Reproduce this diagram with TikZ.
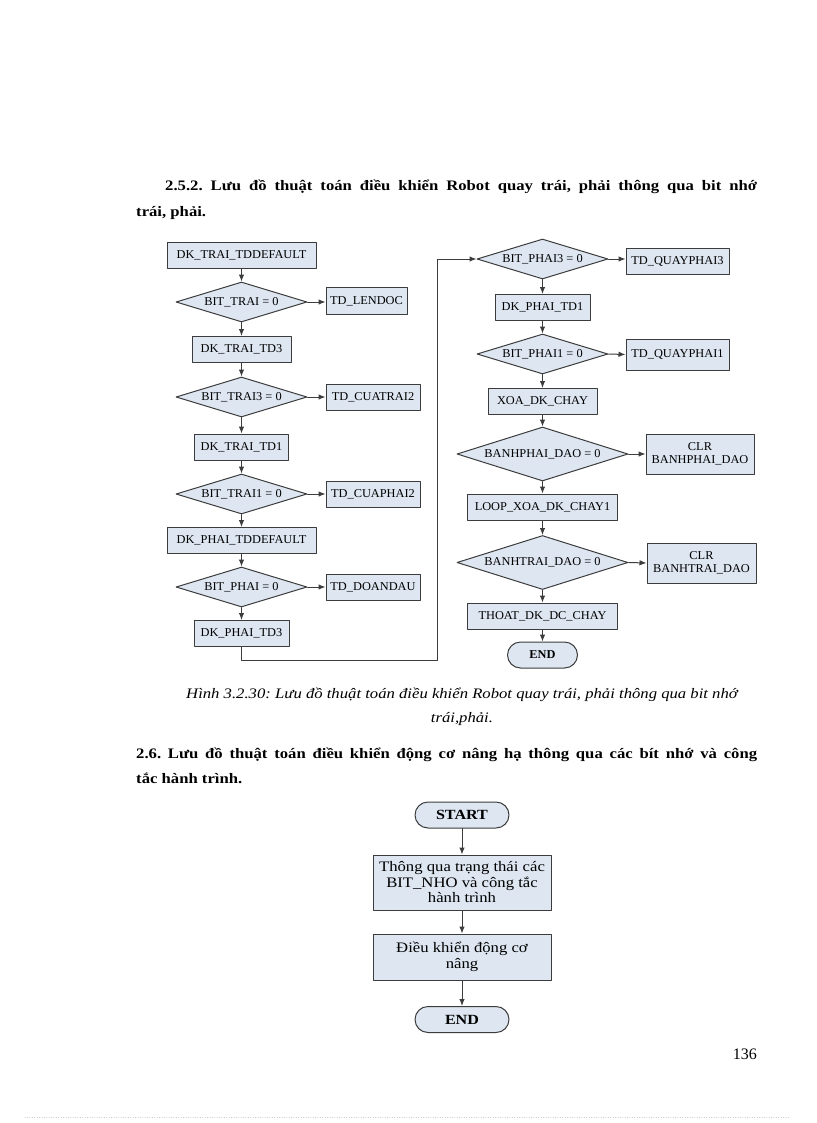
\documentclass[tikz,border=0pt]{standalone}
\usepackage{fontspec}
\setmainfont{Liberation Serif}
\newfontfamily\tieude{Liberation Serif}[FakeStretch=1.15]
\newfontfamily\hop{Liberation Serif}[FakeStretch=1.03]
\usetikzlibrary{shapes.geometric,arrows.meta}
\definecolor{nen}{HTML}{DDE6F1}
\definecolor{vien}{HTML}{3C3C3C}
\begin{document}
\frenchspacing
\begin{tikzpicture}[x=1pt,y=-1pt,>={Latex[length=7pt,width=5.5pt]},line join=round,line cap=round]
		\tikzset{khoi/.style={draw=vien,fill=nen,line width=1pt,rectangle,inner sep=0pt,minimum height=26pt,font=\hop\fontsize{12}{13}\selectfont},
			dieukien/.style={draw=vien,fill=nen,line width=1pt,diamond,aspect=3.5,inner sep=0pt,minimum width=131pt,minimum height=40pt,font=\hop\fontsize{12}{13}\selectfont},
			ketthuc/.style={draw=vien,fill=nen,line width=1pt,rectangle,rounded corners=13pt,inner sep=0pt,minimum width=70pt,minimum height=26pt,font=\hop\bfseries\fontsize{12}{14}\selectfont},
			noi/.style={draw=vien,line width=1pt,->},
			chu/.style={inner sep=0pt}}
		%%Khung trang
		\useasboundingbox (0,0) rectangle (816,1123);
		\def \xl{241.5}
		\def \xr{542.5}
		\def \xb{462}
		%%Tiêu đề
		\node[chu,anchor=base west,font=\tieude\bfseries\fontsize{14.5}{16}\selectfont] (tieudea) at (165,191) {\makebox[592pt][s]{2.5.2. Lưu đồ thuật toán điều khiển Robot quay trái, phải thông qua bit nhớ}};
		\node[chu,anchor=base west,font=\tieude\bfseries\fontsize{14.5}{16}\selectfont] (tieudeb) at (136,217) {trái, phải.};
		%%Cột trái
		\node[khoi,minimum width=149pt] (dktd) at (\xl,255) {DK\_TRAI\_TDDEFAULT};
		\node[dieukien] (bt) at (\xl,302) {BIT\_TRAI = 0};
		\node[khoi,minimum width=81pt,minimum height=27pt] (lendoc) at (366.5,301) {TD\_LENDOC};
		\node[khoi,minimum width=99pt] (dkt3) at (\xl,349.5) {DK\_TRAI\_TD3};
		\node[dieukien] (bt3) at (\xl,397) {BIT\_TRAI3 = 0};
		\node[khoi,minimum width=94pt] (cuatrai) at (373,397) {TD\_CUATRAI2};
		\node[khoi,minimum width=94pt] (dkt1) at (\xl,447) {DK\_TRAI\_TD1};
		\node[dieukien] (bt1) at (\xl,494) {BIT\_TRAI1 = 0};
		\node[khoi,minimum width=94pt] (cuaphai) at (373,494) {TD\_CUAPHAI2};
		\node[khoi,minimum width=149pt] (dkpd) at (\xl,540.5) {DK\_PHAI\_TDDEFAULT};
		\node[dieukien] (bp) at (\xl,587) {BIT\_PHAI = 0};
		\node[khoi,minimum width=94pt] (doandau) at (373,587) {TD\_DOANDAU};
		\node[khoi,minimum width=95pt] (dkp3) at (\xl,633.5) {DK\_PHAI\_TD3};
		%%Cột phải
		\node[dieukien] (bp3) at (\xr,259) {BIT\_PHAI3 = 0};
		\node[khoi,minimum width=103pt] (qp3) at (677.5,261) {TD\_QUAYPHAI3};
		\node[khoi,minimum width=95pt] (dkp1) at (\xr,307.5) {DK\_PHAI\_TD1};
		\node[dieukien] (bp1) at (\xr,354) {BIT\_PHAI1 = 0};
		\node[khoi,minimum width=103pt,minimum height=31pt] (qp1) at (677.5,354.5) {TD\_QUAYPHAI1};
		\node[khoi,minimum width=109pt] (xoa) at (\xr,401.5) {XOA\_DK\_CHAY};
		\node[dieukien,minimum width=171pt,minimum height=54pt] (bph) at (\xr,454) {BANHPHAI\_DAO = 0};
		\node[khoi,minimum width=108pt,minimum height=40pt,align=center] (clrp) at (700,454) {CLR\\BANHPHAI\_DAO};
		\node[khoi,minimum width=150pt] (loop) at (\xr,507) {LOOP\_XOA\_DK\_CHAY1};
		\node[dieukien,minimum width=171pt,minimum height=54pt] (bth) at (\xr,562.5) {BANHTRAI\_DAO = 0};
		\node[khoi,minimum width=109pt,minimum height=40pt,align=center] (clrt) at (701.5,563) {CLR\\BANHTRAI\_DAO};
		\node[khoi,minimum width=150pt] (thoat) at (\xr,616) {THOAT\_DK\_DC\_CHAY};
		\node[ketthuc] (kta) at (\xr,655) {END};
		%%Mũi tên
		\draw[noi] (dktd)--(bt);
		\draw[noi] (bt)--(dkt3);
		\draw[noi] (dkt3)--(bt3);
		\draw[noi] (bt3)--(dkt1);
		\draw[noi] (dkt1)--(bt1);
		\draw[noi] (bt1)--(dkpd);
		\draw[noi] (dkpd)--(bp);
		\draw[noi] (bp)--(dkp3);
		\draw[noi] (bt.east)--(bt.east-|lendoc.west);
		\draw[noi] (bt3.east)--(cuatrai.west);
		\draw[noi] (bt1.east)--(cuaphai.west);
		\draw[noi] (bp.east)--(doandau.west);
		\coordinate (vong) at (437,660);
		\draw[noi] (dkp3.south)|-(vong)|-(bp3.west);
		\draw[noi] (bp3)--(dkp1);
		\draw[noi] (dkp1)--(bp1);
		\draw[noi] (bp1)--(xoa);
		\draw[noi] (xoa)--(bph);
		\draw[noi] (bph)--(loop);
		\draw[noi] (loop)--(bth);
		\draw[noi] (bth)--(thoat);
		\draw[noi] (thoat)--(kta);
		\draw[noi] (bp3.east)--(bp3.east-|qp3.west);
		\draw[noi] (bp1.east)--(qp1.west);
		\draw[noi] (bph.east)--(clrp.west);
		\draw[noi] (bth.east)--(clrt.west);
		%%Chú thích hình
		\node[chu,anchor=base,font=\tieude\itshape\fontsize{14.5}{16}\selectfont] (hinha) at (462,698) {Hình 3.2.30: Lưu đồ thuật toán điều khiển Robot quay trái, phải thông qua bit nhớ};
		\node[chu,anchor=base,font=\tieude\itshape\fontsize{14.5}{16}\selectfont] (hinhb) at (462,722) {trái,phải.};
		\node[chu,anchor=base west,font=\tieude\bfseries\fontsize{14.5}{16}\selectfont] (tieudec) at (136,758) {\makebox[621pt][s]{2.6. Lưu đồ thuật toán điều khiển động cơ nâng hạ thông qua các bít nhớ và công}};
		\node[chu,anchor=base west,font=\tieude\bfseries\fontsize{14.5}{16}\selectfont] (tieuded) at (136,783) {tắc hành trình.};
		%%Lưu đồ nâng hạ
		\node[ketthuc,minimum width=94pt,font=\tieude\bfseries\fontsize{14}{15}\selectfont] (batdau) at (\xb,815) {START};
		\node[khoi,minimum width=178pt,minimum height=55pt,align=center,font=\tieude\fontsize{14.5}{15.5}\selectfont] (thongqua) at (\xb,882.5) {Thông qua trạng thái các\\BIT\_NHO và công tắc\\hành trình};
		\node[khoi,minimum width=178pt,minimum height=46pt,align=center,font=\tieude\fontsize{14.5}{16.5}\selectfont] (dkdc) at (\xb,957) {Điều khiển động cơ\\nâng};
		\node[ketthuc,minimum width=94pt,font=\tieude\bfseries\fontsize{14}{15}\selectfont] (ktb) at (\xb,1019.5) {END};
		\draw[noi] (batdau)--(thongqua);
		\draw[noi] (thongqua)--(dkdc);
		\draw[noi] (dkdc)--(ktb);
		%%Số trang
		\node[chu,anchor=base east,font=\fontsize{16}{18}\selectfont] (sotrang) at (757,1059) {136};
		\draw[black!25,dotted] (25,1117)--(790,1117);
\end{tikzpicture}
\end{document}
